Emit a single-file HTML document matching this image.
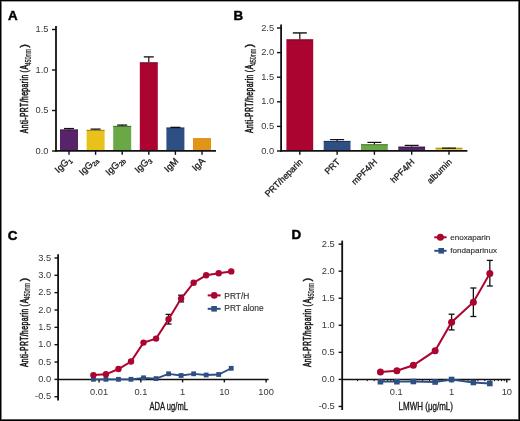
<!DOCTYPE html>
<html><head><meta charset="utf-8"><style>
html,body{margin:0;padding:0;background:#fff;}
#f{position:relative;width:520px;height:421px;overflow:hidden;background:#fff;}
svg{position:absolute;left:0;top:0;will-change:transform;}
text{font-family:"Liberation Sans",sans-serif;}
.pl{font-size:13.4px;font-weight:bold;fill:#000;stroke:#000;stroke-width:0.45px;}
.tl{font-size:9.3px;fill:#383838;}
.cl{font-size:8.8px;fill:#1a1a1a;stroke:#1a1a1a;stroke-width:0.3px;}
.clA{font-size:9.4px;}
.ss{font-size:6.4px;}
.yt{font-size:10px;fill:#161616;stroke:#161616;stroke-width:0.55px;}
.sub{font-size:8.2px;stroke-width:0.2px;fill:#222;stroke:#222;}
.xt{font-size:10.4px;fill:#1a1a1a;stroke:#1a1a1a;stroke-width:0.35px;}
.lg2{font-size:8.1px;fill:#333;stroke:#333;stroke-width:0.15px;}
.lg{font-size:8.4px;fill:#333;stroke:#333;stroke-width:0.15px;}
</style></head><body><div id="f">
<svg width="520" height="421" viewBox="0 0 520 421">
<text class="pl" x="7.9" y="19.9">A</text>
<line x1="56.00" y1="26.00" x2="56.00" y2="151.80" stroke="#111" stroke-width="1.8"/>
<line x1="52.00" y1="151.00" x2="56.00" y2="151.00" stroke="#111" stroke-width="1.4"/>
<text class="tl" x="48.50" y="153.80" text-anchor="end">0.0</text>
<line x1="52.00" y1="110.50" x2="56.00" y2="110.50" stroke="#111" stroke-width="1.4"/>
<text class="tl" x="48.50" y="113.30" text-anchor="end">0.5</text>
<line x1="52.00" y1="70.00" x2="56.00" y2="70.00" stroke="#111" stroke-width="1.4"/>
<text class="tl" x="48.50" y="72.80" text-anchor="end">1.0</text>
<line x1="52.00" y1="29.50" x2="56.00" y2="29.50" stroke="#111" stroke-width="1.4"/>
<text class="tl" x="48.50" y="32.30" text-anchor="end">1.5</text>
<g transform="translate(27.8,132.9) rotate(-90) scale(0.68,1)">
<text class="yt" x="-0.44" y="0" textLength="85.88" lengthAdjust="spacing">Anti-PRT/heparin</text>
<text class="yt" x="88.82" y="0" textLength="11.18" lengthAdjust="spacing">(A</text>
<text class="yt sub" x="99.12" y="2.7" textLength="24.41" lengthAdjust="spacing">450nm</text>
</g>
<text class="yt" transform="translate(27.8,132.9) rotate(-90)" x="85.2" y="0" style="stroke-width:0.4px;font-size:11px">)</text>
<rect x="60.00" y="129.45" width="18" height="21.55" fill="#57246a"/>
<line x1="69.00" y1="129.45" x2="69.00" y2="128.56" stroke="#111" stroke-width="1.2"/>
<line x1="64.00" y1="128.56" x2="74.00" y2="128.56" stroke="#111" stroke-width="1.3"/>
<line x1="60.00" y1="129.95" x2="78.00" y2="129.95" stroke="rgba(0,0,0,0.35)" stroke-width="1"/>
<line x1="69.00" y1="151.00" x2="69.00" y2="154.80" stroke="#111" stroke-width="1.4"/>
<text class="cl clA" text-anchor="end" transform="translate(71.80,160.2) rotate(-45)">IgG<tspan class="ss" dy="2">1</tspan></text>
<rect x="86.60" y="129.86" width="18" height="21.14" fill="#e8c21a"/>
<line x1="95.60" y1="129.86" x2="95.60" y2="129.13" stroke="#111" stroke-width="1.2"/>
<line x1="90.60" y1="129.13" x2="100.60" y2="129.13" stroke="#111" stroke-width="1.3"/>
<line x1="86.60" y1="130.36" x2="104.60" y2="130.36" stroke="rgba(0,0,0,0.35)" stroke-width="1"/>
<line x1="95.60" y1="151.00" x2="95.60" y2="154.80" stroke="#111" stroke-width="1.4"/>
<text class="cl clA" text-anchor="end" transform="translate(98.40,160.2) rotate(-45)">IgG<tspan class="ss" dy="2">2a</tspan></text>
<rect x="113.20" y="125.89" width="18" height="25.11" fill="#69a844"/>
<line x1="122.20" y1="125.89" x2="122.20" y2="125.08" stroke="#111" stroke-width="1.2"/>
<line x1="117.20" y1="125.08" x2="127.20" y2="125.08" stroke="#111" stroke-width="1.3"/>
<line x1="113.20" y1="126.39" x2="131.20" y2="126.39" stroke="rgba(0,0,0,0.35)" stroke-width="1"/>
<line x1="122.20" y1="151.00" x2="122.20" y2="154.80" stroke="#111" stroke-width="1.4"/>
<text class="cl clA" text-anchor="end" transform="translate(125.00,160.2) rotate(-45)">IgG<tspan class="ss" dy="2">2b</tspan></text>
<rect x="139.80" y="62.31" width="18" height="88.69" fill="#ac0430"/>
<line x1="148.80" y1="62.31" x2="148.80" y2="56.88" stroke="#111" stroke-width="1.2"/>
<line x1="143.80" y1="56.88" x2="153.80" y2="56.88" stroke="#111" stroke-width="1.3"/>
<line x1="139.80" y1="62.81" x2="157.80" y2="62.81" stroke="rgba(0,0,0,0.35)" stroke-width="1"/>
<line x1="148.80" y1="151.00" x2="148.80" y2="154.80" stroke="#111" stroke-width="1.4"/>
<text class="cl clA" text-anchor="end" transform="translate(151.60,160.2) rotate(-45)">IgG<tspan class="ss" dy="2">3</tspan></text>
<rect x="166.40" y="127.51" width="18" height="23.49" fill="#2d4f84"/>
<line x1="175.40" y1="127.51" x2="175.40" y2="127.35" stroke="#111" stroke-width="1.2"/>
<line x1="170.40" y1="127.35" x2="180.40" y2="127.35" stroke="#111" stroke-width="1.3"/>
<line x1="166.40" y1="128.01" x2="184.40" y2="128.01" stroke="rgba(0,0,0,0.35)" stroke-width="1"/>
<line x1="175.40" y1="151.00" x2="175.40" y2="154.80" stroke="#111" stroke-width="1.4"/>
<text class="cl clA" text-anchor="end" transform="translate(179.00,161.6) rotate(-45)">IgM</text>
<rect x="193.00" y="138.04" width="18" height="12.96" fill="#e09418"/>
<line x1="202.00" y1="151.00" x2="202.00" y2="154.80" stroke="#111" stroke-width="1.4"/>
<text class="cl clA" text-anchor="end" transform="translate(205.60,161.6) rotate(-45)">IgA</text>
<line x1="55.20" y1="150.85" x2="216.00" y2="150.85" stroke="#111" stroke-width="1.7"/>
<text class="pl" x="233.6" y="19.6">B</text>
<line x1="281.10" y1="24.50" x2="281.10" y2="151.80" stroke="#111" stroke-width="1.8"/>
<line x1="277.00" y1="151.00" x2="281.10" y2="151.00" stroke="#111" stroke-width="1.4"/>
<text class="tl" x="274.10" y="153.50" text-anchor="end">0.0</text>
<line x1="277.00" y1="126.40" x2="281.10" y2="126.40" stroke="#111" stroke-width="1.4"/>
<text class="tl" x="274.10" y="128.90" text-anchor="end">0.5</text>
<line x1="277.00" y1="101.80" x2="281.10" y2="101.80" stroke="#111" stroke-width="1.4"/>
<text class="tl" x="274.10" y="104.30" text-anchor="end">1.0</text>
<line x1="277.00" y1="77.20" x2="281.10" y2="77.20" stroke="#111" stroke-width="1.4"/>
<text class="tl" x="274.10" y="79.70" text-anchor="end">1.5</text>
<line x1="277.00" y1="52.60" x2="281.10" y2="52.60" stroke="#111" stroke-width="1.4"/>
<text class="tl" x="274.10" y="55.10" text-anchor="end">2.0</text>
<line x1="277.00" y1="28.00" x2="281.10" y2="28.00" stroke="#111" stroke-width="1.4"/>
<text class="tl" x="274.10" y="30.50" text-anchor="end">2.5</text>
<g transform="translate(252.8,132.7) rotate(-90) scale(0.68,1)">
<text class="yt" x="-0.44" y="0" textLength="85.88" lengthAdjust="spacing">Anti-PRT/heparin</text>
<text class="yt" x="88.82" y="0" textLength="11.18" lengthAdjust="spacing">(A</text>
<text class="yt sub" x="99.12" y="2.7" textLength="24.41" lengthAdjust="spacing">450nm</text>
</g>
<text class="yt" transform="translate(252.8,132.7) rotate(-90)" x="85.2" y="0" style="stroke-width:0.4px;font-size:11px">)</text>
<rect x="286.40" y="39.32" width="26.8" height="111.68" fill="#ac0430"/>
<line x1="299.80" y1="39.32" x2="299.80" y2="32.92" stroke="#111" stroke-width="1.2"/>
<line x1="292.80" y1="32.92" x2="306.80" y2="32.92" stroke="#111" stroke-width="1.4"/>
<line x1="286.40" y1="39.82" x2="313.20" y2="39.82" stroke="rgba(0,0,0,0.35)" stroke-width="1"/>
<line x1="299.80" y1="151.00" x2="299.80" y2="154.80" stroke="#111" stroke-width="1.4"/>
<text class="cl" text-anchor="end" transform="translate(303.20,162.5) rotate(-45)">PRT/heparin</text>
<rect x="323.70" y="140.91" width="26.8" height="10.09" fill="#2d4f84"/>
<line x1="337.10" y1="140.91" x2="337.10" y2="139.59" stroke="#111" stroke-width="1.2"/>
<line x1="330.10" y1="139.59" x2="344.10" y2="139.59" stroke="#111" stroke-width="1.2"/>
<line x1="323.70" y1="141.41" x2="350.50" y2="141.41" stroke="rgba(0,0,0,0.35)" stroke-width="1"/>
<line x1="337.10" y1="151.00" x2="337.10" y2="154.80" stroke="#111" stroke-width="1.4"/>
<text class="cl" text-anchor="end" transform="translate(340.50,162.5) rotate(-45)">PRT</text>
<rect x="361.00" y="144.21" width="26.8" height="6.79" fill="#69a844"/>
<line x1="374.40" y1="144.21" x2="374.40" y2="142.39" stroke="#111" stroke-width="1.2"/>
<line x1="367.40" y1="142.39" x2="381.40" y2="142.39" stroke="#111" stroke-width="1.2"/>
<line x1="361.00" y1="144.71" x2="387.80" y2="144.71" stroke="rgba(0,0,0,0.35)" stroke-width="1"/>
<line x1="374.40" y1="151.00" x2="374.40" y2="154.80" stroke="#111" stroke-width="1.4"/>
<text class="cl" text-anchor="end" transform="translate(377.80,162.5) rotate(-45)">mPF4/H</text>
<rect x="398.30" y="146.62" width="26.8" height="4.38" fill="#57246a"/>
<line x1="411.70" y1="146.62" x2="411.70" y2="145.39" stroke="#111" stroke-width="1.2"/>
<line x1="404.70" y1="145.39" x2="418.70" y2="145.39" stroke="#111" stroke-width="1.2"/>
<line x1="398.30" y1="147.12" x2="425.10" y2="147.12" stroke="rgba(0,0,0,0.35)" stroke-width="1"/>
<line x1="411.70" y1="151.00" x2="411.70" y2="154.80" stroke="#111" stroke-width="1.4"/>
<text class="cl" text-anchor="end" transform="translate(415.10,162.5) rotate(-45)">hPF4/H</text>
<rect x="435.60" y="147.75" width="26.8" height="3.25" fill="#e6cf3a"/>
<line x1="449.00" y1="147.75" x2="449.00" y2="148.15" stroke="#111" stroke-width="1.2"/>
<line x1="442.00" y1="148.15" x2="456.00" y2="148.15" stroke="#111" stroke-width="1.2"/>
<line x1="435.60" y1="148.25" x2="462.40" y2="148.25" stroke="rgba(0,0,0,0.35)" stroke-width="1"/>
<line x1="449.00" y1="151.00" x2="449.00" y2="154.80" stroke="#111" stroke-width="1.4"/>
<text class="cl" text-anchor="end" transform="translate(452.40,162.5) rotate(-45)">albumin</text>
<line x1="280.30" y1="150.85" x2="467.40" y2="150.85" stroke="#111" stroke-width="1.7"/>
<text class="pl" x="7.8" y="239.6">C</text>
<line x1="58.10" y1="254.30" x2="58.10" y2="400.60" stroke="#111" stroke-width="1.8"/>
<line x1="54.50" y1="396.75" x2="58.10" y2="396.75" stroke="#111" stroke-width="1.4"/>
<text class="tl" x="51.10" y="399.35" text-anchor="end">-0.5</text>
<line x1="54.50" y1="379.40" x2="58.10" y2="379.40" stroke="#111" stroke-width="1.4"/>
<text class="tl" x="51.10" y="382.00" text-anchor="end">0.0</text>
<line x1="54.50" y1="362.05" x2="58.10" y2="362.05" stroke="#111" stroke-width="1.4"/>
<text class="tl" x="51.10" y="364.65" text-anchor="end">0.5</text>
<line x1="54.50" y1="344.70" x2="58.10" y2="344.70" stroke="#111" stroke-width="1.4"/>
<text class="tl" x="51.10" y="347.30" text-anchor="end">1.0</text>
<line x1="54.50" y1="327.35" x2="58.10" y2="327.35" stroke="#111" stroke-width="1.4"/>
<text class="tl" x="51.10" y="329.95" text-anchor="end">1.5</text>
<line x1="54.50" y1="310.00" x2="58.10" y2="310.00" stroke="#111" stroke-width="1.4"/>
<text class="tl" x="51.10" y="312.60" text-anchor="end">2.0</text>
<line x1="54.50" y1="292.65" x2="58.10" y2="292.65" stroke="#111" stroke-width="1.4"/>
<text class="tl" x="51.10" y="295.25" text-anchor="end">2.5</text>
<line x1="54.50" y1="275.30" x2="58.10" y2="275.30" stroke="#111" stroke-width="1.4"/>
<text class="tl" x="51.10" y="277.90" text-anchor="end">3.0</text>
<line x1="54.50" y1="257.95" x2="58.10" y2="257.95" stroke="#111" stroke-width="1.4"/>
<text class="tl" x="51.10" y="260.55" text-anchor="end">3.5</text>
<g transform="translate(27.6,366.8) rotate(-90) scale(0.68,1)">
<text class="yt" x="-0.44" y="0" textLength="85.88" lengthAdjust="spacing">Anti-PRT/heparin</text>
<text class="yt" x="88.82" y="0" textLength="11.18" lengthAdjust="spacing">(A</text>
<text class="yt sub" x="99.12" y="2.7" textLength="24.41" lengthAdjust="spacing">450nm</text>
</g>
<text class="yt" transform="translate(27.6,366.8) rotate(-90)" x="85.2" y="0" style="stroke-width:0.4px;font-size:11px">)</text>
<line x1="58.10" y1="379.40" x2="268.60" y2="379.40" stroke="#111" stroke-width="1.5"/>
<line x1="99.10" y1="379.40" x2="99.10" y2="382.40" stroke="#111" stroke-width="1.4"/>
<text class="tl" x="99.10" y="394.60" text-anchor="middle">0.01</text>
<line x1="140.85" y1="379.40" x2="140.85" y2="382.40" stroke="#111" stroke-width="1.4"/>
<text class="tl" x="140.85" y="394.60" text-anchor="middle">0.1</text>
<line x1="182.60" y1="379.40" x2="182.60" y2="382.40" stroke="#111" stroke-width="1.4"/>
<text class="tl" x="182.60" y="394.60" text-anchor="middle">1</text>
<line x1="224.35" y1="379.40" x2="224.35" y2="382.40" stroke="#111" stroke-width="1.4"/>
<text class="tl" x="224.35" y="394.60" text-anchor="middle">10</text>
<line x1="266.10" y1="379.40" x2="266.10" y2="382.40" stroke="#111" stroke-width="1.4"/>
<text class="tl" x="266.10" y="394.60" text-anchor="middle">100</text>
<text class="xt" x="149.5" y="409.8" textLength="38.5" lengthAdjust="spacingAndGlyphs">ADA ug/mL</text>
<polyline fill="none" stroke="#2d4f84" stroke-width="1.8" points="93.40,379.30 105.93,379.30 118.46,379.30 130.99,379.30 143.52,377.80 156.05,378.60 168.58,373.80 181.11,375.50 193.64,373.80 206.17,375.00 218.70,374.50 231.23,368.30"/>
<rect x="91.00" y="376.90" width="4.8" height="4.8" fill="#2d4f84"/>
<rect x="103.53" y="376.90" width="4.8" height="4.8" fill="#2d4f84"/>
<rect x="116.06" y="376.90" width="4.8" height="4.8" fill="#2d4f84"/>
<rect x="128.59" y="376.90" width="4.8" height="4.8" fill="#2d4f84"/>
<rect x="141.12" y="375.40" width="4.8" height="4.8" fill="#2d4f84"/>
<rect x="153.65" y="376.20" width="4.8" height="4.8" fill="#2d4f84"/>
<rect x="166.18" y="371.40" width="4.8" height="4.8" fill="#2d4f84"/>
<rect x="178.71" y="373.10" width="4.8" height="4.8" fill="#2d4f84"/>
<rect x="191.24" y="371.40" width="4.8" height="4.8" fill="#2d4f84"/>
<rect x="203.77" y="372.60" width="4.8" height="4.8" fill="#2d4f84"/>
<rect x="216.30" y="372.10" width="4.8" height="4.8" fill="#2d4f84"/>
<rect x="228.83" y="365.90" width="4.8" height="4.8" fill="#2d4f84"/>
<line x1="168.58" y1="314.40" x2="168.58" y2="324.00" stroke="#111" stroke-width="1.3"/>
<line x1="165.58" y1="314.40" x2="171.58" y2="314.40" stroke="#111" stroke-width="1.3"/>
<line x1="165.58" y1="324.00" x2="171.58" y2="324.00" stroke="#111" stroke-width="1.3"/>
<line x1="181.11" y1="295.20" x2="181.11" y2="301.90" stroke="#111" stroke-width="1.3"/>
<line x1="178.11" y1="295.20" x2="184.11" y2="295.20" stroke="#111" stroke-width="1.3"/>
<line x1="178.11" y1="301.90" x2="184.11" y2="301.90" stroke="#111" stroke-width="1.3"/>
<polyline fill="none" stroke="#ac0430" stroke-width="2" points="93.40,375.10 105.93,374.30 118.46,369.00 130.99,361.50 143.52,342.60 156.05,338.60 168.58,319.20 181.11,298.60 193.64,282.70 206.17,275.30 218.70,273.30 231.23,271.40"/>
<circle cx="93.40" cy="375.10" r="3.2" fill="#ac0430"/>
<circle cx="105.93" cy="374.30" r="3.2" fill="#ac0430"/>
<circle cx="118.46" cy="369.00" r="3.2" fill="#ac0430"/>
<circle cx="130.99" cy="361.50" r="3.2" fill="#ac0430"/>
<circle cx="143.52" cy="342.60" r="3.2" fill="#ac0430"/>
<circle cx="156.05" cy="338.60" r="3.2" fill="#ac0430"/>
<circle cx="168.58" cy="319.20" r="3.2" fill="#ac0430"/>
<circle cx="181.11" cy="298.60" r="3.2" fill="#ac0430"/>
<circle cx="193.64" cy="282.70" r="3.2" fill="#ac0430"/>
<circle cx="206.17" cy="275.30" r="3.2" fill="#ac0430"/>
<circle cx="218.70" cy="273.30" r="3.2" fill="#ac0430"/>
<circle cx="231.23" cy="271.40" r="3.2" fill="#ac0430"/>
<line x1="207.70" y1="295.40" x2="220.60" y2="295.40" stroke="#ac0430" stroke-width="2"/>
<circle cx="214.2" cy="295.4" r="3.3" fill="#ac0430"/>
<text class="lg" x="224.3" y="298.6">PRT/H</text>
<line x1="207.70" y1="308.80" x2="220.60" y2="308.80" stroke="#2d4f84" stroke-width="2"/>
<rect x="211.3" y="306" width="5.6" height="5.6" fill="#2d4f84"/>
<text class="lg" x="224.3" y="310.9">PRT alone</text>
<text class="pl" x="291.4" y="239.4">D</text>
<line x1="342.20" y1="240.60" x2="342.20" y2="410.00" stroke="#111" stroke-width="1.8"/>
<line x1="338.60" y1="406.45" x2="342.20" y2="406.45" stroke="#111" stroke-width="1.4"/>
<text class="tl" x="334.80" y="409.25" text-anchor="end">-0.5</text>
<line x1="338.60" y1="379.40" x2="342.20" y2="379.40" stroke="#111" stroke-width="1.4"/>
<text class="tl" x="334.80" y="382.20" text-anchor="end">0.0</text>
<line x1="338.60" y1="352.35" x2="342.20" y2="352.35" stroke="#111" stroke-width="1.4"/>
<text class="tl" x="334.80" y="355.15" text-anchor="end">0.5</text>
<line x1="338.60" y1="325.30" x2="342.20" y2="325.30" stroke="#111" stroke-width="1.4"/>
<text class="tl" x="334.80" y="328.10" text-anchor="end">1.0</text>
<line x1="338.60" y1="298.25" x2="342.20" y2="298.25" stroke="#111" stroke-width="1.4"/>
<text class="tl" x="334.80" y="301.05" text-anchor="end">1.5</text>
<line x1="338.60" y1="271.20" x2="342.20" y2="271.20" stroke="#111" stroke-width="1.4"/>
<text class="tl" x="334.80" y="274.00" text-anchor="end">2.0</text>
<line x1="338.60" y1="244.15" x2="342.20" y2="244.15" stroke="#111" stroke-width="1.4"/>
<text class="tl" x="334.80" y="246.95" text-anchor="end">2.5</text>
<g transform="translate(311.2,366.8) rotate(-90) scale(0.68,1)">
<text class="yt" x="-0.44" y="0" textLength="85.88" lengthAdjust="spacing">Anti-PRT/heparin</text>
<text class="yt" x="88.82" y="0" textLength="11.18" lengthAdjust="spacing">(A</text>
<text class="yt sub" x="99.12" y="2.7" textLength="24.41" lengthAdjust="spacing">450nm</text>
</g>
<text class="yt" transform="translate(311.2,366.8) rotate(-90)" x="85.2" y="0" style="stroke-width:0.4px;font-size:11px">)</text>
<line x1="342.20" y1="379.40" x2="510.50" y2="379.40" stroke="#111" stroke-width="1.5"/>
<line x1="357.55" y1="379.40" x2="357.55" y2="381.20" stroke="#111" stroke-width="1"/>
<line x1="367.28" y1="379.40" x2="367.28" y2="381.20" stroke="#111" stroke-width="1"/>
<line x1="374.19" y1="379.40" x2="374.19" y2="381.20" stroke="#111" stroke-width="1"/>
<line x1="379.55" y1="379.40" x2="379.55" y2="381.20" stroke="#111" stroke-width="1"/>
<line x1="383.93" y1="379.40" x2="383.93" y2="381.20" stroke="#111" stroke-width="1"/>
<line x1="387.63" y1="379.40" x2="387.63" y2="381.20" stroke="#111" stroke-width="1"/>
<line x1="390.84" y1="379.40" x2="390.84" y2="381.20" stroke="#111" stroke-width="1"/>
<line x1="393.67" y1="379.40" x2="393.67" y2="381.20" stroke="#111" stroke-width="1"/>
<line x1="412.85" y1="379.40" x2="412.85" y2="381.20" stroke="#111" stroke-width="1"/>
<line x1="422.58" y1="379.40" x2="422.58" y2="381.20" stroke="#111" stroke-width="1"/>
<line x1="429.49" y1="379.40" x2="429.49" y2="381.20" stroke="#111" stroke-width="1"/>
<line x1="434.85" y1="379.40" x2="434.85" y2="381.20" stroke="#111" stroke-width="1"/>
<line x1="439.23" y1="379.40" x2="439.23" y2="381.20" stroke="#111" stroke-width="1"/>
<line x1="442.93" y1="379.40" x2="442.93" y2="381.20" stroke="#111" stroke-width="1"/>
<line x1="446.14" y1="379.40" x2="446.14" y2="381.20" stroke="#111" stroke-width="1"/>
<line x1="448.97" y1="379.40" x2="448.97" y2="381.20" stroke="#111" stroke-width="1"/>
<line x1="468.15" y1="379.40" x2="468.15" y2="381.20" stroke="#111" stroke-width="1"/>
<line x1="477.88" y1="379.40" x2="477.88" y2="381.20" stroke="#111" stroke-width="1"/>
<line x1="484.79" y1="379.40" x2="484.79" y2="381.20" stroke="#111" stroke-width="1"/>
<line x1="490.15" y1="379.40" x2="490.15" y2="381.20" stroke="#111" stroke-width="1"/>
<line x1="494.53" y1="379.40" x2="494.53" y2="381.20" stroke="#111" stroke-width="1"/>
<line x1="498.23" y1="379.40" x2="498.23" y2="381.20" stroke="#111" stroke-width="1"/>
<line x1="501.44" y1="379.40" x2="501.44" y2="381.20" stroke="#111" stroke-width="1"/>
<line x1="504.27" y1="379.40" x2="504.27" y2="381.20" stroke="#111" stroke-width="1"/>
<line x1="396.20" y1="379.40" x2="396.20" y2="382.40" stroke="#111" stroke-width="1.4"/>
<text class="tl" x="396.20" y="394.60" text-anchor="middle">0.1</text>
<line x1="451.50" y1="379.40" x2="451.50" y2="382.40" stroke="#111" stroke-width="1.4"/>
<text class="tl" x="451.50" y="394.60" text-anchor="middle">1</text>
<line x1="506.80" y1="379.40" x2="506.80" y2="382.40" stroke="#111" stroke-width="1.4"/>
<text class="tl" x="506.80" y="394.60" text-anchor="middle">10</text>
<text class="xt" x="398.5" y="409.6" textLength="54.5" lengthAdjust="spacingAndGlyphs">LMWH (μg/mL)</text>
<polyline fill="none" stroke="#2d4f84" stroke-width="1.8" points="380.43,381.70 396.90,381.70 413.37,381.50 435.13,382.00 451.60,379.50 473.37,382.50 489.83,383.50"/>
<rect x="377.63" y="378.90" width="5.6" height="5.6" fill="#2d4f84"/>
<rect x="394.10" y="378.90" width="5.6" height="5.6" fill="#2d4f84"/>
<rect x="410.57" y="378.70" width="5.6" height="5.6" fill="#2d4f84"/>
<rect x="432.33" y="379.20" width="5.6" height="5.6" fill="#2d4f84"/>
<rect x="448.80" y="376.70" width="5.6" height="5.6" fill="#2d4f84"/>
<rect x="470.57" y="379.70" width="5.6" height="5.6" fill="#2d4f84"/>
<rect x="487.03" y="380.70" width="5.6" height="5.6" fill="#2d4f84"/>
<line x1="451.60" y1="314.20" x2="451.60" y2="329.90" stroke="#111" stroke-width="1.3"/>
<line x1="448.60" y1="314.20" x2="454.60" y2="314.20" stroke="#111" stroke-width="1.3"/>
<line x1="448.60" y1="329.90" x2="454.60" y2="329.90" stroke="#111" stroke-width="1.3"/>
<line x1="473.37" y1="288.00" x2="473.37" y2="316.50" stroke="#111" stroke-width="1.3"/>
<line x1="470.37" y1="288.00" x2="476.37" y2="288.00" stroke="#111" stroke-width="1.3"/>
<line x1="470.37" y1="316.50" x2="476.37" y2="316.50" stroke="#111" stroke-width="1.3"/>
<line x1="489.83" y1="260.40" x2="489.83" y2="286.00" stroke="#111" stroke-width="1.3"/>
<line x1="486.83" y1="260.40" x2="492.83" y2="260.40" stroke="#111" stroke-width="1.3"/>
<line x1="486.83" y1="286.00" x2="492.83" y2="286.00" stroke="#111" stroke-width="1.3"/>
<polyline fill="none" stroke="#ac0430" stroke-width="2" points="380.43,371.90 396.90,370.80 413.37,365.30 435.13,350.70 451.60,322.20 473.37,302.20 489.83,273.40"/>
<circle cx="380.43" cy="371.90" r="3.5" fill="#ac0430"/>
<circle cx="396.90" cy="370.80" r="3.5" fill="#ac0430"/>
<circle cx="413.37" cy="365.30" r="3.5" fill="#ac0430"/>
<circle cx="435.13" cy="350.70" r="3.5" fill="#ac0430"/>
<circle cx="451.60" cy="322.20" r="3.5" fill="#ac0430"/>
<circle cx="473.37" cy="302.20" r="3.5" fill="#ac0430"/>
<circle cx="489.83" cy="273.40" r="3.5" fill="#ac0430"/>
<line x1="434.30" y1="237.30" x2="446.60" y2="237.30" stroke="#ac0430" stroke-width="2"/>
<circle cx="440.4" cy="237.3" r="3.5" fill="#ac0430"/>
<text class="lg2" x="450.2" y="240.4">enoxaparin</text>
<line x1="434.30" y1="250.80" x2="446.60" y2="250.80" stroke="#2d4f84" stroke-width="2"/>
<rect x="438.4" y="248" width="5.6" height="5.6" fill="#2d4f84"/>
<text class="lg2" x="450.2" y="252.7">fondaparinux</text>
</svg>
<svg width="520" height="421" style="position:absolute;left:0;top:0" shape-rendering="crispEdges">
<rect x="1" y="1" width="518" height="1" fill="#a0a0a0"/>
<rect x="1" y="1" width="1" height="419" fill="#808080"/>
<rect x="518" y="1" width="1" height="419" fill="#606060"/>
<rect x="1" y="419" width="518" height="1" fill="#555"/>
<rect x="0" y="0" width="520" height="1" fill="#000"/>
<rect x="0" y="0" width="1" height="421" fill="#000"/>
<rect x="519" y="0" width="1" height="421" fill="#000"/>
<rect x="0" y="420" width="520" height="1" fill="#000"/>
</svg>
</div></body></html>
